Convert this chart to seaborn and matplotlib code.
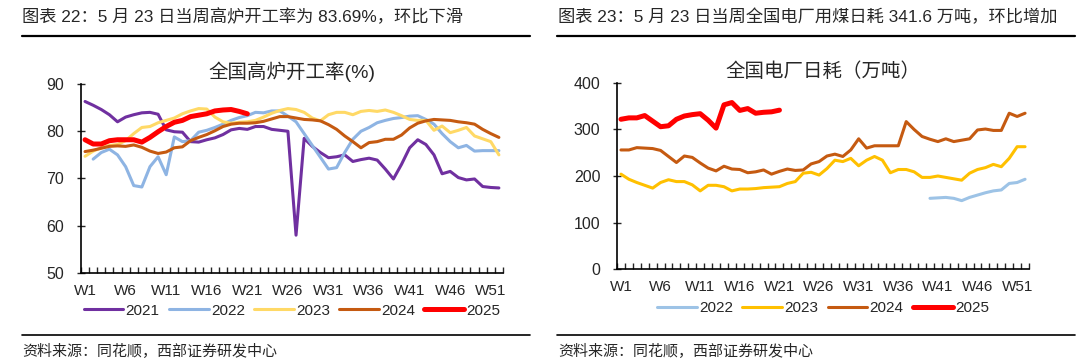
import numpy as np
import pandas as pd
import matplotlib
matplotlib.use("Agg")
import matplotlib.pyplot as plt
from matplotlib.lines import Line2D
import seaborn as sns

# ---- data ----
weeks = np.arange(1, 53)
week_labels = [f"W{w}" for w in range(1, 53, 5)]

# blast furnace operating rate (%)
bf_2021 = [86.3, 85.5, 84.6, 83.5, 82.0, 83.0, 83.5, 83.9, 84.0, 83.6, 80.3, 79.9, 79.8, 77.8, 77.7, 78.2,
           78.6, 79.3, 80.3, 80.6, 80.4, 81.0, 81.0, 80.4, 80.2, 80.0, 58.0, 78.5, 76.8, 75.5, 74.4, 74.6,
           75.0, 73.6, 74.0, 74.3, 73.9, 72.0, 69.9, 73.0, 76.5, 78.2, 77.2, 75.0, 71.0, 71.5, 70.2, 69.7,
           69.9, 68.3, 68.1, 68.0]
bf_2022 = [np.nan, 74.1, 75.5, 76.2, 75.0, 72.5, 68.5, 68.2, 72.5, 74.6, 70.8, 78.8, 77.8, 78.0, 79.8, 80.2,
           80.8, 81.5, 82.3, 82.9, 83.3, 84.0, 83.9, 84.3, 84.3, 83.2, 82.0, 79.5, 77.0, 74.5, 72.0, 72.3,
           75.5, 78.3, 80.0, 80.8, 81.8, 82.3, 82.7, 82.9, 83.2, 83.3, 82.5, 81.5, 79.5, 77.8, 76.5, 77.0,
           75.8, 75.9, 75.9, 75.9]
bf_2023 = [74.7, 75.8, 76.5, 77.0, 77.2, 78.0, 79.5, 80.8, 81.0, 81.8, 82.3, 82.8, 83.7, 84.3, 84.8, 84.7,
           83.0, 82.0, 81.7, 81.9, 82.0, 82.3, 83.0, 83.8, 84.4, 84.8, 84.6, 84.0, 82.8, 82.2, 83.5, 84.0,
           84.0, 83.5, 84.2, 84.4, 84.2, 84.5, 84.0, 83.3, 82.5, 82.3, 82.3, 80.2, 81.1, 79.7, 80.2, 80.8,
           79.0, 78.4, 77.8, 75.0]
bf_2024 = [75.7, 76.0, 76.4, 76.8, 76.9, 76.8, 77.1, 76.6, 75.8, 75.3, 75.6, 76.5, 76.7, 78.0, 78.7, 79.3,
           80.1, 81.0, 81.5, 81.7, 81.7, 81.8, 82.1, 82.6, 83.1, 83.1, 82.8, 82.5, 82.4, 82.2, 81.4, 80.4,
           79.0, 77.8, 76.5, 77.6, 77.8, 78.3, 78.3, 79.2, 80.7, 81.7, 82.2, 82.5, 82.4, 82.3, 82.0, 81.8,
           81.5, 80.4, 79.5, 78.7]
bf_2025 = [78.2, 77.3, 77.3, 78.0, 78.2, 78.2, 78.2, 77.7, 78.7, 79.9, 81.0, 81.9, 82.3, 83.1, 83.4, 83.7,
           84.3, 84.5, 84.6, 84.2, 83.69]

# power plant daily coal consumption (10k t)
pc_2022 = [np.nan] * 39 + [152, 153, 154, 152, 147, 154, 159, 164, 168, 170, 184, 186, 193]
pc_2023 = [204, 193, 186, 180, 174, 186, 192, 188, 188, 181, 168, 180, 180, 177, 168, 172,
           172, 173, 175, 176, 177, 184, 188, 206, 208, 202, 216, 234, 231, 238, 222, 234,
           242, 234, 207, 214, 214, 209, 197, 197, 200, 197, 194, 191, 206, 214, 218, 225,
           220, 238, 263, 263]
pc_2024 = [256, 256, 261, 260, 259, 255, 242, 229, 243, 240, 228, 217, 211, 221, 215, 214,
           207, 209, 213, 204, 210, 215, 212, 213, 226, 231, 243, 247, 242, 256, 280, 260,
           265, 265, 265, 265, 317, 300, 285, 279, 274, 280, 274, 277, 280, 299, 301, 298,
           298, 335, 328, 335]
pc_2025 = [322, 325, 325, 330, 318, 306, 308, 322, 329, 332, 334, 320, 303, 353, 358, 341,
           345, 335, 337, 338, 341.6]

left_series = {"2021": bf_2021, "2022": bf_2022, "2023": bf_2023, "2024": bf_2024, "2025": bf_2025}
left_colors = {"2021": "#7030A0", "2022": "#8EB4E3", "2023": "#FFD966", "2024": "#C55A11", "2025": "#FF0000"}
right_series = {"2022": pc_2022, "2023": pc_2023, "2024": pc_2024, "2025": pc_2025}
right_colors = {"2022": "#9DC3E6", "2023": "#FFC000", "2024": "#C55A11", "2025": "#FF0000"}

sns.set_style("ticks")
plt.rcParams["font.family"] = ["Liberation Sans", "Noto Sans CJK SC", "DejaVu Sans"]
cjk = ["Liberation Sans", "Noto Sans CJK SC"]

fig = plt.figure(figsize=(10.8, 3.61), dpi=100)
ax1 = fig.add_axes([0.075, 0.2438, 0.3907, 0.5235])
ax2 = fig.add_axes([0.5713, 0.2548, 0.3815, 0.5153])


def draw_panel(ax, series, colors, ylim, yticks, title, leg_y):
    for name, vals in series.items():
        df = pd.DataFrame({"week": weeks[:len(vals)], "value": vals}).dropna()
        lw = 3.6 if name == "2025" else 2.2
        sns.lineplot(data=df, x="week", y="value", ax=ax, color=colors[name], lw=lw,
                     label=name, solid_capstyle="round")
    ax.set_xlim(0.5, 52.5)
    ax.set_ylim(*ylim)
    ax.set_yticks(yticks)
    ax.set_xticks(range(1, 53, 5))
    ax.set_xticklabels(week_labels)
    ax.set_xticks(np.arange(0.5, 53, 1), minor=True)
    ax.tick_params(axis="x", which="major", length=0, pad=8, labelsize=11)
    ax.tick_params(axis="x", which="minor", direction="in", length=4, width=1)
    ax.tick_params(axis="y", direction="inout", length=6, width=1, pad=9, labelsize=11.5)
    ax.set_xlabel("")
    ax.set_ylabel("")
    for s in ["top", "right"]:
        ax.spines[s].set_visible(False)
    for s in ["left", "bottom"]:
        ax.spines[s].set_color("black")
        ax.spines[s].set_linewidth(1.2)
    ax.set_title(title, fontsize=14, family=cjk, pad=4, y=1.0)
    ax.legend(loc="center", bbox_to_anchor=(0.5, leg_y), ncol=len(series), frameon=False,
              fontsize=11, handlelength=2.6, handletextpad=0.15, columnspacing=0.6)


draw_panel(ax1, left_series, left_colors, (50, 90), range(50, 91, 10), "全国高炉开工率(%)", -0.2)
draw_panel(ax2, right_series, right_colors, (0, 400), range(0, 401, 100), "全国电厂日耗（万吨）", -0.21)

# header texts and rules
fig.text(22 / 1080, 1 - 17 / 361, "图表 22：5 月 23 日当周高炉开工率为 83.69%，环比下滑",
         fontsize=12.4, family=cjk, va="center", ha="left")
fig.text(558 / 1080, 1 - 17 / 361, "图表 23：5 月 23 日当周全国电厂用煤日耗 341.6 万吨，环比增加",
         fontsize=12.4, family=cjk, va="center", ha="left")
fig.text(22 / 1080, 1 - 352 / 361, "资料来源：同花顺，西部证券研发中心",
         fontsize=10.8, family=cjk, va="center", ha="left")
fig.text(558 / 1080, 1 - 352 / 361, "资料来源：同花顺，西部证券研发中心",
         fontsize=10.8, family=cjk, va="center", ha="left")
for x0, x1 in [(22, 530), (557, 1075)]:
    fig.add_artist(Line2D([x0 / 1080, x1 / 1080], [1 - 36 / 361] * 2, color="black", lw=1.6))
    fig.add_artist(Line2D([x0 / 1080, x1 / 1080], [1 - 335 / 361] * 2, color="black", lw=1.2))

fig.savefig("out.png", dpi=100)
